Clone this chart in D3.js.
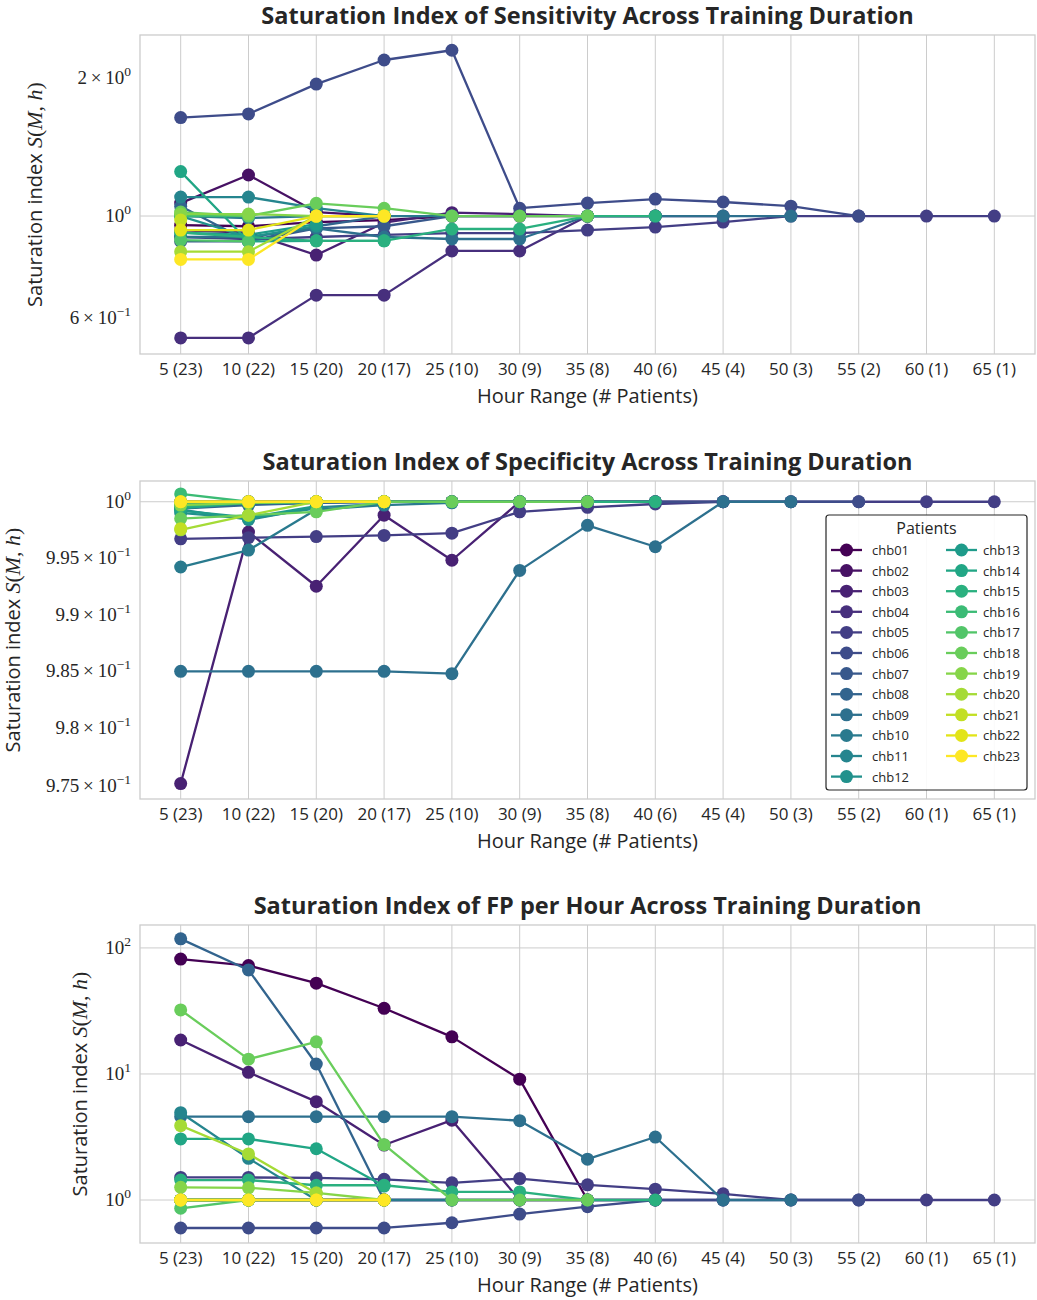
<!DOCTYPE html>
<html>
<head>
<meta charset="utf-8">
<script src="https://cdn.jsdelivr.net/npm/d3@7"></script>
<style>
  body { margin: 0; background: #fff; }
  svg { display: block; }
  .title { font-family: "Open Sans", "Noto Sans", sans-serif; font-weight: 700; font-size: 23.5px; fill: #262626; }
  .xtick { font-family: "Open Sans", "Noto Sans", sans-serif; font-size: 17px; fill: #262626; }
  .ytick { font-family: "Liberation Serif", "DejaVu Serif", serif; font-size: 19px; fill: #262626; }
  .axlabel { font-family: "Open Sans", "Noto Sans", sans-serif; font-size: 20px; fill: #262626; }
  .math { font-family: "Liberation Serif", "DejaVu Serif", serif; font-style: italic; font-size: 22px; }
  .grid { stroke: #cccccc; stroke-width: 1; }
  .frame { fill: none; stroke: #cccccc; stroke-width: 1.3; }
  .legtext { font-family: "Open Sans", "Noto Sans", sans-serif; font-size: 13px; fill: #262626; }
</style>
</head>
<body>
<svg id="canvas" width="1037" height="1300"></svg>
<script>
(function () {
  // ---------- data ----------
  const hours = ["5 (23)", "10 (22)", "15 (20)", "20 (17)", "25 (10)", "30 (9)", "35 (8)",
                 "40 (6)", "45 (4)", "50 (3)", "55 (2)", "60 (1)", "65 (1)"];
  const patients = d3.range(1, 24).map(i => "chb" + String(i).padStart(2, "0"));

  // one array per patient, values from the first hour range onwards
  const sensitivity = [
    [0.955, 0.95, 0.97, 0.98, 1.0, 1.0, 1.0],
    [1.067, 1.229, 1.02, 1.0],
    [0.93, 0.92, 0.822, 0.967, 1.017, 1.01, 1.0, 1.0],
    [0.542, 0.542, 0.672, 0.672, 0.839, 0.839, 1.0, 1.0, 1.0],
    [0.90, 0.89, 0.90, 0.91, 0.918, 0.918, 0.932, 0.946, 0.970, 1.0, 1.0, 1.0, 1.0],
    [1.64, 1.67, 1.94, 2.19, 2.30, 1.04, 1.067, 1.089, 1.073, 1.051, 1.0],
    [0.88, 0.88, 0.94, 0.95, 1.0, 1.0],
    [1.05, 0.88, 0.95, 1.0],
    [0.90, 0.90, 0.94, 0.90, 0.891, 0.891, 1.0, 1.0, 1.0, 1.0],
    [1.0, 0.99, 1.0, 1.0, 1.0],
    [1.10, 1.10, 1.04, 1.0],
    [1.0, 0.90, 0.95],
    [0.92, 0.91, 0.96],
    [1.25, 0.88, 0.883, 0.883],
    [0.92, 0.90, 0.883, 0.883, 0.937, 0.937, 1.0, 1.0],
    [1.0, 1.0],
    [0.886, 0.88],
    [1.02, 1.0, 1.066, 1.04, 1.0, 1.0, 1.0],
    [1.01, 1.01, 1.0, 1.0],
    [0.836, 0.836, 1.0],
    [0.98],
    [0.932, 0.932, 1.0, 1.0],
    [0.804, 0.804, 1.0, 1.0]
  ];

  const specificity = [
    [1.0, 1.0, 1.0, 1.0, 1.0, 1.0, 1.0],
    [0.9995, 0.9998, 1.0, 1.0],
    [0.9752, 0.9973, 0.9925, 0.9988, 0.9948, 1.0, 1.0, 1.0],
    [0.9998, 1.0, 1.0, 1.0, 1.0, 1.0, 1.0, 1.0, 1.0],
    [0.9967, 0.9968, 0.9969, 0.9970, 0.9972, 0.9991, 0.9995, 0.9998, 1.0, 1.0, 1.0, 1.0, 1.0],
    [1.0, 1.0, 1.0, 1.0, 1.0, 1.0, 1.0, 1.0, 1.0, 1.0, 1.0],
    [0.9996, 0.9998, 0.9999, 1.0, 1.0, 1.0],
    [0.9994, 0.9997, 0.9999, 1.0],
    [0.9850, 0.9850, 0.9850, 0.9850, 0.9848, 0.9939, 0.9979, 0.9960, 1.0, 1.0],
    [0.9942, 0.9957, 0.9993, 0.9997, 0.9999],
    [0.9993, 0.9984, 0.9995, 0.9998],
    [0.9990, 0.9985, 0.9994],
    [0.9992, 0.9986, 0.9996],
    [0.9994, 0.9999, 1.0, 1.0],
    [0.9996, 0.9999, 1.0, 1.0, 1.0, 1.0, 1.0, 1.0],
    [1.0007, 1.0],
    [0.9999, 1.0],
    [0.9985, 0.9988, 0.9991, 1.0, 1.0, 1.0, 1.0],
    [0.9997, 0.9999, 1.0, 1.0],
    [0.9975, 0.9988, 1.0],
    [0.9976],
    [1.0, 1.0, 1.0, 1.0],
    [1.0, 1.0, 1.0, 1.0]
  ];

  const fpPerHour = [
    [81.5, 72.4, 52.5, 33.2, 19.7, 9.1, 1.0],
    [1.0, 1.0, 1.0, 1.0],
    [18.6, 10.3, 6.03, 2.73, 4.3, 1.0, 1.0, 1.0],
    [1.0, 1.0, 1.0, 1.0, 1.0, 1.0, 1.0, 1.0, 1.0],
    [1.51, 1.51, 1.50, 1.46, 1.37, 1.48, 1.32, 1.22, 1.12, 1.0, 1.0, 1.0, 1.0],
    [0.6, 0.6, 0.6, 0.6, 0.66, 0.774, 0.885, 1.0, 1.0, 1.0, 1.0],
    [1.0, 1.0, 1.0, 1.0, 1.0, 1.0],
    [118, 66.9, 12.0, 1.0],
    [4.58, 4.58, 4.58, 4.58, 4.58, 4.26, 2.11, 3.16, 1.0, 1.0],
    [1.0, 1.0, 1.0, 1.0, 1.0],
    [4.93, 2.14, 1.0, 1.0],
    [1.0, 1.0, 1.0],
    [1.0, 1.0, 1.0],
    [3.05, 3.05, 2.55, 1.29],
    [1.44, 1.44, 1.31, 1.31, 1.16, 1.16, 1.0, 1.0],
    [1.0, 1.0],
    [0.86, 1.0],
    [32.2, 13.1, 18.0, 2.75, 1.0, 1.0, 1.0],
    [1.26, 1.25, 1.14, 1.0],
    [3.89, 2.32, 1.13],
    [1.0],
    [1.0, 1.0, 1.0, 1.0],
    [1.0, 1.0, 1.0, 1.0]
  ];

  // y tick labels: value, mantissa, exponent
  const sensTicks = [{ v: 2, m: "2", e: "0" }, { v: 1, m: null, e: "0" }, { v: 0.6, m: "6", e: "\u22121" }];
  const specTicks = [{ v: 1, m: null, e: "0" }, { v: 0.995, m: "9.95", e: "\u22121" }, { v: 0.99, m: "9.9", e: "\u22121" },
                     { v: 0.985, m: "9.85", e: "\u22121" }, { v: 0.98, m: "9.8", e: "\u22121" }, { v: 0.975, m: "9.75", e: "\u22121" }];
  const fpTicks = [{ v: 100, m: null, e: "2" }, { v: 10, m: null, e: "1" }, { v: 1, m: null, e: "0" }];

  const panels = [
    { title: "Saturation Index of Sensitivity Across Training Duration", data: sensitivity, ticks: sensTicks,
      domain: [0.5, 2.483], top: 35, bottom: 354, labelX: 42, legend: false },
    { title: "Saturation Index of Specificity Across Training Duration", data: specificity, ticks: specTicks,
      domain: [0.97386, 1.00185], top: 481, bottom: 799, labelX: 20, legend: true },
    { title: "Saturation Index of FP per Hour Across Training Duration", data: fpPerHour, ticks: fpTicks,
      domain: [0.456, 152], top: 925, bottom: 1243, labelX: 87, legend: false }
  ];

  const left = 140, right = 1035;
  const color = i => d3.interpolateViridis(i / (patients.length - 1));
  const svg = d3.select("#canvas");

  const x = d3.scalePoint().domain(hours).range([left, right]).padding(0.6);

  panels.forEach(p => {
    const g = svg.append("g");
    const y = d3.scaleLog().domain(p.domain).range([p.bottom, p.top]);

    // grid
    g.selectAll(".vgrid").data(hours).join("line")
      .attr("class", "grid")
      .attr("x1", d => x(d)).attr("x2", d => x(d))
      .attr("y1", p.top).attr("y2", p.bottom);
    g.selectAll(".hgrid").data(p.ticks.filter(t => Math.abs(Math.log10(t.v) % 1) < 1e-9)).join("line")
      .attr("class", "grid")
      .attr("x1", left).attr("x2", right)
      .attr("y1", d => y(d.v)).attr("y2", d => y(d.v));

    g.append("rect").attr("class", "frame")
      .attr("x", left).attr("y", p.top).attr("width", right - left).attr("height", p.bottom - p.top);

    // x ticks
    g.selectAll(".xtick").data(hours).join("text")
      .attr("class", "xtick")
      .attr("x", d => x(d)).attr("y", p.bottom + 21)
      .attr("text-anchor", "middle")
      .text(d => d);

    // y ticks
    p.ticks.forEach(t => {
      const txt = g.append("text").attr("class", "ytick")
        .attr("x", left - 9).attr("y", y(t.v) + 6).attr("text-anchor", "end");
      if (t.m) txt.append("tspan").text(t.m + "\u2009\u00d7\u2009");
      txt.append("tspan").text("10");
      txt.append("tspan").attr("dy", -8).attr("font-size", 13.5).text(t.e);
    });

    // titles
    g.append("text").attr("class", "title")
      .attr("x", (left + right) / 2).attr("y", p.top - 11)
      .attr("text-anchor", "middle").text(p.title);

    g.append("text").attr("class", "axlabel")
      .attr("x", (left + right) / 2).attr("y", p.bottom + 49)
      .attr("text-anchor", "middle")
      .text("Hour Range (# Patients)");

    const yl = g.append("text").attr("class", "axlabel")
      .attr("transform", `translate(${p.labelX},${(p.top + p.bottom) / 2}) rotate(-90)`)
      .attr("text-anchor", "middle");
    yl.append("tspan").text("Saturation index ");
    yl.append("tspan").attr("class", "math").text("S");
    yl.append("tspan").attr("class", "math").style("font-style", "normal").text("(");
    yl.append("tspan").attr("class", "math").text("M");
    yl.append("tspan").attr("class", "math").style("font-style", "normal").text(", ");
    yl.append("tspan").attr("class", "math").text("h");
    yl.append("tspan").attr("class", "math").style("font-style", "normal").text(")");

    // series
    const line = d3.line().x((d, i) => x(hours[i])).y(d => y(d));
    p.data.forEach((vals, i) => {
      const sg = g.append("g");
      sg.append("path").datum(vals)
        .attr("d", line)
        .attr("fill", "none")
        .attr("stroke", color(i))
        .attr("stroke-width", 2.3)
        .attr("stroke-linejoin", "round");
      sg.selectAll("circle").data(vals).join("circle")
        .attr("cx", (d, j) => x(hours[j]))
        .attr("cy", d => y(d))
        .attr("r", 6.5)
        .attr("fill", color(i));
    });

    // legend
    if (p.legend) {
      const lx = 826, ly = 515, lw = 201, lh = 275;
      const lg = g.append("g");
      lg.append("rect")
        .attr("x", lx).attr("y", ly).attr("width", lw).attr("height", lh)
        .attr("rx", 3).attr("fill", "white").attr("fill-opacity", 0.9)
        .attr("stroke", "#262626").attr("stroke-width", 1.2);
      lg.append("text").attr("class", "legtext").style("font-size", "16px")
        .attr("x", lx + lw / 2).attr("y", ly + 19).attr("text-anchor", "middle").text("Patients");
      const rows = 12, rowH = 20.6;
      patients.forEach((name, i) => {
        const col = Math.floor(i / rows), row = i % rows;
        const hx = lx + 5 + col * 115, hy = ly + 35 + row * rowH;
        lg.append("line").attr("x1", hx).attr("x2", hx + 31).attr("y1", hy).attr("y2", hy)
          .attr("stroke", color(i)).attr("stroke-width", 2.3);
        lg.append("circle").attr("cx", hx + 15.5).attr("cy", hy).attr("r", 6.5).attr("fill", color(i));
        lg.append("text").attr("class", "legtext")
          .attr("x", hx + 41 - col * 4).attr("y", hy + 5).text(name);
      });
    }
  });
})();
</script>
</body>
</html>
